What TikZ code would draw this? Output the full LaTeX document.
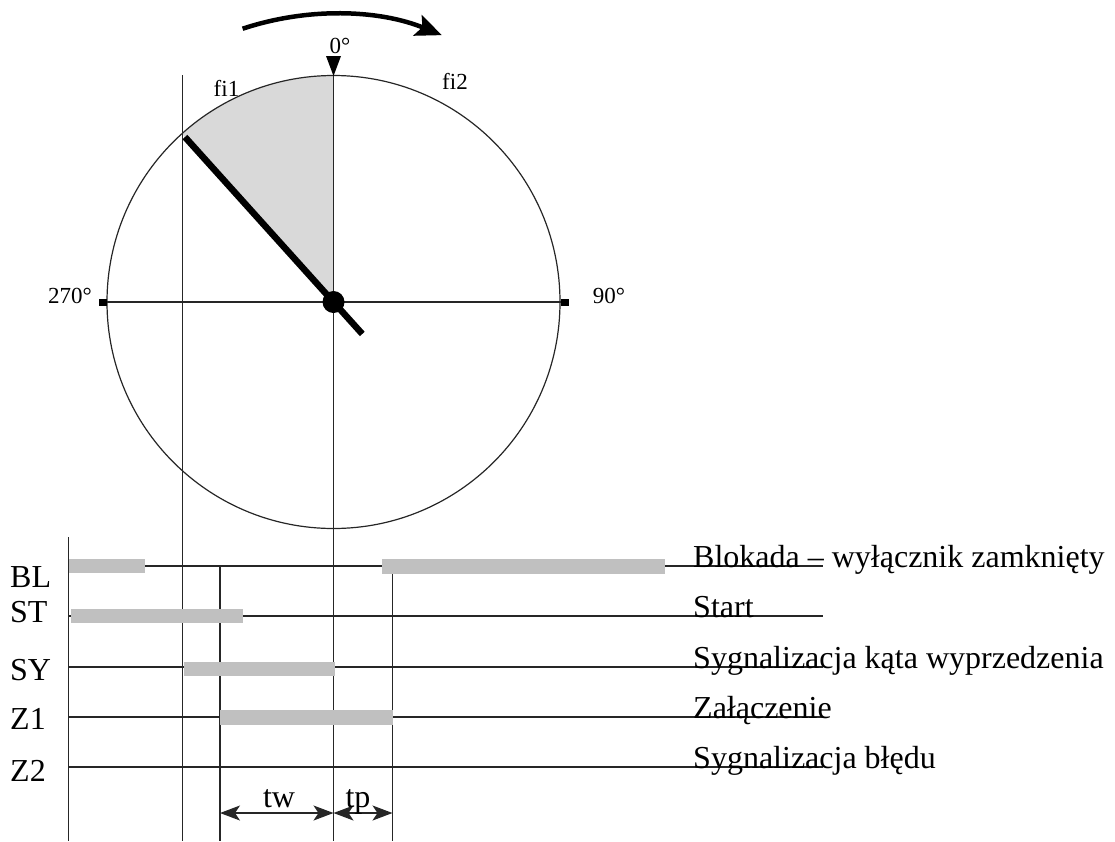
\documentclass[tikz,border=0pt]{standalone}
\usepackage{fontspec}
\setmainfont{Liberation Serif}
\usetikzlibrary{arrows.meta, calc}
\definecolor{barGray}{HTML}{C0C0C0}
\definecolor{sectorGray}{HTML}{D9D9D9}

\begin{document}
\begin{tikzpicture}[
        x=1pt, y=1pt,
        thinline/.style={draw=black!85, line width=1.2pt},
        bar/.style={fill=barGray},
        needle/.style={draw=black, line width=6.5pt},
        rotarrow/.style={-{Stealth[length=26pt, width=22pt, inset=5pt]}, line width=4.5pt},
        span/.style={{Stealth[length=20pt, width=15pt, inset=5pt]}-{Stealth[length=20pt, width=15pt, inset=5pt]}, draw=black!85, line width=1.2pt},
        siglabel/.style={font=\fontsize{32}{37}\selectfont, inner sep=0pt},
        anglelabel/.style={font=\fontsize{23}{27}\selectfont, inner sep=0pt},
    ]
        \useasboundingbox (0,0) rectangle (1115,-841);
        \coordinate (c) at (333.5,-302);

        % Sector between fi1 and 0 deg
        \fill[sectorGray] (c) -- ++(90:226.5) arc[start angle=90, end angle=132, radius=226.5] -- cycle;

        % Dial
        \draw[thinline] (c) circle[radius=226.5];
        \draw[thinline] (103,-302) -- (565,-302);
        \fill (99,-298.5) rectangle (107,-305.5);
        \fill (561,-298.5) rectangle (569,-305.5);
        \fill (333.5,-76) -- (326,-56) -- (341,-56) -- cycle;

        % Direction of rotation
        \draw[rotarrow] ($(c)+(108.4:288)$) arc[start angle=108.4, end angle=67.9, radius=288];

        % Vertical markers
        \draw[thinline] (333.5,-76) -- (333.5,-841);
        \draw[thinline] (182.5,-75) -- (182.5,-841);
        \draw[thinline] (68.5,-537) -- (68.5,-841);
        \draw[thinline] (220,-566) -- (220,-841);
        \draw[thinline] (392.5,-574) -- (392.5,-841);

        % Signal lines with labels
        \foreach \name/\ypos/\lbly/\desc in {
            BL/566/587/{Blokada – wyłącznik zamknięty},
            ST/616/622/{Start},
            SY/667/680/{Sygnalizacja kąta wyprzedzenia},
            Z1/717/729/{Załączenie},
            Z2/767/781/{Sygnalizacja błędu}} {
            \draw[thinline] (68.5,-\ypos) -- (823,-\ypos);
            \node[siglabel, anchor=base west] (sig-\name) at (10,-\lbly) {\name};
            \node[siglabel, anchor=base west] (desc-\name) at (693,-\ypos-1) {\desc};
        }

        % Signal states
        \fill[bar] (68.5,-559) rectangle (145,-573);
        \fill[bar] (382,-559) rectangle (665,-574);
        \fill[bar] (71,-608.5) rectangle (243,-623);
        \fill[bar] (184,-662) rectangle (335,-676);
        \fill[bar] (220,-710) rectangle (393,-725);

        % Pointer
        \draw[needle] ($(c)+(132:222)$) -- ($(c)+(312:43)$);
        \fill (c) circle[radius=11];

        % Angle labels
        \node[anglelabel] (deg0) at (340,-46) {0°};
        \node[anglelabel] (deg90) at (609,-296) {90°};
        \node[anglelabel] (deg270) at (70,-296) {270°};
        \node[anglelabel] (fi1) at (226.5,-88.5) {fi1};
        \node[anglelabel] (fi2) at (455,-81.5) {fi2};

        % Time spans
        \coordinate (tw-a) at (220,-813);
        \coordinate (tw-b) at (333.5,-813);
        \coordinate (tp-b) at (392.5,-813);
        \draw[span] (tw-a) -- (tw-b);
        \draw[span] (tw-b) -- (tp-b);
        \node[siglabel, anchor=base] (tw) at (279,-807) {tw};
        \node[siglabel, anchor=base] (tp) at (358,-807) {tp};
    \end{tikzpicture}
\end{document}
